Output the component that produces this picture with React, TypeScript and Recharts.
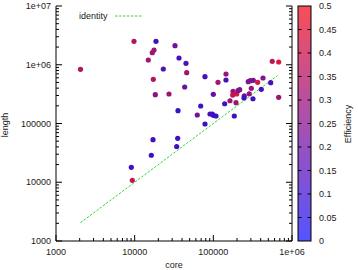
import React from "react";
import { ScatterChart, Scatter, XAxis, YAxis, ReferenceLine } from "recharts";

const cores = [2048, 9800, 18660, 32570, 17620, 16750, 14900, 23120, 36600, 44900, 45840, 17250, 78300, 144900, 144900, 114600, 43250, 18290, 27310, 100000, 561000, 677000, 278000, 295000, 322000, 366000, 428000, 536000, 407000, 304000, 286000, 247600, 245400, 319000, 677000, 177800, 198000, 205800, 216400, 176200, 162800, 194100, 139400, 69100, 35550, 62500, 90700, 97000, 100000, 108100, 184700, 78300, 17100, 35240, 34200, 16270, 9060, 9330];
const lengths = [837000, 2506000, 2506000, 2110000, 1782000, 1603000, 1205000, 847000, 1303000, 1059000, 732000, 565000, 626000, 696000, 550000, 502000, 418000, 309000, 318000, 314000, 1145000, 1114000, 515000, 535000, 543000, 502000, 595000, 495000, 382000, 397000, 321000, 297000, 272000, 264000, 279000, 353000, 318000, 362000, 376000, 305000, 244000, 226000, 217000, 198600, 165000, 139500, 145000, 145000, 138000, 134300, 134300, 98000, 53000, 56000, 40600, 28800, 17960, 10800];
const efficiency = [0.35, 0.35, 0.05, 0.18, 0.3, 0.3, 0.32, 0.1, 0.06, 0.08, 0.32, 0.36, 0.06, 0.3, 0.06, 0.32, 0.16, 0.24, 0.3, 0.14, 0.38, 0.47, 0.2, 0.22, 0.2, 0.45, 0.22, 0.08, 0.08, 0.3, 0.26, 0.2, 0.05, 0.05, 0.3, 0.3, 0.46, 0.22, 0.22, 0.4, 0.3, 0.3, 0.05, 0.05, 0.04, 0.2, 0.05, 0.05, 0.05, 0.05, 0.05, 0.04, 0.05, 0.05, 0.05, 0.05, 0.05, 0.4];

const xMajorTicks = [1000, 10000, 100000, 1000000];
const xTickLabels = ["1000", "10000", "100000", "1e+06"];
const yMajorTicks = [1000, 10000, 100000, 1000000, 10000000];
const yTickLabels = ["1000", "10000", "100000", "1e+06", "1e+07"];
const cbTicks = [0, 0.05, 0.1, 0.15, 0.2, 0.25, 0.3, 0.35, 0.4, 0.45, 0.5];
const cbLabels = ["0", "0.05", "0.1", "0.15", "0.2", "0.25", "0.3", "0.35", "0.4", "0.45", "0.5"];
const identity = [2048, 655360];

const W = 358;
const H = 270;
const PLOT_LEFT = 56;
const PLOT_RIGHT = 292;
const PLOT_TOP = 6;
const PLOT_BOTTOM = 241;
const CB_X = 298;
const CB_W = 13;
const CB_MAX = 0.5;
const FONT = "'Liberation Sans', Arial, sans-serif";
const FS = 9;
const TXT = "#1a1a1a";

const table = cores.map((c, i) => ({ core: c, length: lengths[i], eff: efficiency[i] }));

function withMinors(majors: number[]) {
  const out: number[] = [];
  for (let i = 0; i < majors.length; i++) {
    out.push(majors[i]);
    if (i < majors.length - 1) {
      for (let k = 2; k <= 9; k++) out.push(majors[i] * k);
    }
  }
  return out;
}
const xTicksAll = withMinors(xMajorTicks);
const yTicksAll = withMinors(yMajorTicks);

const lerp = (a: number, b: number, t: number) => Math.round(a + (b - a) * t);
function pointColor(e: number) {
  const t = Math.max(0, Math.min(1, e / CB_MAX));
  return `rgb(${lerp(44, 232, t)},${lerp(16, 24, t)},${lerp(210, 52, t)})`;
}

const labelFor = (v: number, majors: number[], labels: string[]) => {
  const idx = majors.findIndex((m) => Math.abs(m - v) / m < 1e-6);
  return idx >= 0 ? labels[idx] : null;
};

const makeTick = (side: "bottom" | "top" | "left" | "right") => (props: any) => {
  const { x, y, payload } = props;
  const v = payload.value;
  const isX = side === "bottom" || side === "top";
  const lab = isX ? labelFor(v, xMajorTicks, xTickLabels) : labelFor(v, yMajorTicks, yTickLabels);
  const len = lab !== null ? 6 : 3;
  let line;
  if (side === "bottom") line = <line x1={x} x2={x} y1={y} y2={y - len} stroke="#000" />;
  else if (side === "top") line = <line x1={x} x2={x} y1={y} y2={y + len} stroke="#000" />;
  else if (side === "left") line = <line x1={x} x2={x + len} y1={y} y2={y} stroke="#000" />;
  else line = <line x1={x} x2={x - len} y1={y} y2={y} stroke="#000" />;
  let text = null;
  if (lab !== null && side === "bottom") {
    text = (
      <text x={x} y={y + 14} textAnchor="middle" fontSize={FS} fontFamily={FONT} fill={TXT}>
        {lab}
      </text>
    );
  } else if (lab !== null && side === "left") {
    text = (
      <text x={x - 5} y={y + 3} textAnchor="end" fontSize={FS} fontFamily={FONT} fill={TXT}>
        {lab}
      </text>
    );
  }
  return (
    <g>
      {line}
      {text}
    </g>
  );
};

const Dot = (props: any) => {
  const { cx, cy, payload } = props;
  if (cx == null || cy == null) return null;
  return <circle cx={cx} cy={cy} r={2.6} fill={pointColor(payload.eff)} />;
};

function ColorBar() {
  const h = PLOT_BOTTOM - PLOT_TOP;
  const yOf = (v: number) => PLOT_BOTTOM - (v / CB_MAX) * h;
  return (
    <g>
      <defs>
        <linearGradient id="cbgrad" x1="0" y1="1" x2="0" y2="0">
          <stop offset="0%" stopColor="rgb(84,84,255)" />
          <stop offset="50%" stopColor="rgb(168,80,176)" />
          <stop offset="100%" stopColor="rgb(248,78,88)" />
        </linearGradient>
      </defs>
      <rect x={CB_X} y={PLOT_TOP} width={CB_W} height={h} fill="url(#cbgrad)" stroke="#000" strokeWidth={1} />
      {cbTicks.map((v, i) => (
        <g key={i}>
          {i > 0 && i < cbTicks.length - 1 && (
            <>
              <line x1={CB_X} x2={CB_X + 3.5} y1={yOf(v)} y2={yOf(v)} stroke="#000" />
              <line x1={CB_X + CB_W - 3.5} x2={CB_X + CB_W} y1={yOf(v)} y2={yOf(v)} stroke="#000" />
            </>
          )}
          <text x={CB_X + CB_W + 8} y={yOf(v) + 3} fontSize={FS} fontFamily={FONT} fill={TXT}>
            {cbLabels[i]}
          </text>
        </g>
      ))}
      <text
        x={351}
        y={124}
        transform="rotate(-90 351 124)"
        textAnchor="middle"
        fontSize={FS}
        fontFamily={FONT}
        fill={TXT}
      >
        Efficiency
      </text>
    </g>
  );
}

export default function App() {
  return (
    <div style={{ position: "absolute", left: 0, top: 0, width: W, height: H, background: "#fff" }}>
      <ScatterChart width={W} height={H} margin={{ top: PLOT_TOP, right: 0, bottom: 0, left: 0 }}>
        <XAxis
          xAxisId={0}
          type="number"
          dataKey="core"
          scale="log"
          domain={[1000, 1000000]}
          allowDataOverflow
          ticks={xTicksAll}
          interval={0}
          height={H - PLOT_BOTTOM}
          tickSize={0}
          tickMargin={0}
          tickLine={false}
          axisLine={{ stroke: "#000" }}
          tick={makeTick("bottom")}
        />
        <XAxis
          xAxisId="top"
          orientation="top"
          type="number"
          scale="log"
          domain={[1000, 1000000]}
          allowDataOverflow
          ticks={xTicksAll}
          interval={0}
          height={0}
          tickSize={0}
          tickMargin={0}
          tickLine={false}
          axisLine={{ stroke: "#000" }}
          tick={makeTick("top")}
        />
        <YAxis
          yAxisId={0}
          type="number"
          dataKey="length"
          scale="log"
          domain={[1000, 10000000]}
          allowDataOverflow
          ticks={yTicksAll}
          interval={0}
          width={PLOT_LEFT}
          tickSize={0}
          tickMargin={0}
          tickLine={false}
          axisLine={{ stroke: "#000" }}
          tick={makeTick("left")}
        />
        <YAxis
          yAxisId="right"
          orientation="right"
          type="number"
          scale="log"
          domain={[1000, 10000000]}
          allowDataOverflow
          ticks={yTicksAll}
          interval={0}
          width={W - PLOT_RIGHT}
          tickSize={0}
          tickMargin={0}
          tickLine={false}
          axisLine={{ stroke: "#000" }}
          tick={makeTick("right")}
        />
        <ReferenceLine
          segment={[
            { x: identity[0], y: identity[0] },
            { x: identity[1], y: identity[1] },
          ]}
          stroke="#2ed82e"
          strokeWidth={1}
          strokeDasharray="2.5 1.5"
          ifOverflow="visible"
        />
        <Scatter data={table} isAnimationActive={false} shape={Dot} />
        <g>
          <text x={79} y={19} fontSize={FS} fontFamily={FONT} fill={TXT}>
            identity
          </text>
          <line x1={115} x2={143} y1={16} y2={16} stroke="#2ed82e" strokeDasharray="2.5 1.5" />
          <text x={174} y={268} textAnchor="middle" fontSize={FS} fontFamily={FONT} fill={TXT}>
            core
          </text>
          <text x={8} y={125} transform="rotate(-90 8 125)" textAnchor="middle" fontSize={FS} fontFamily={FONT} fill={TXT}>
            length
          </text>
        </g>
        <ColorBar />
      </ScatterChart>
    </div>
  );
}
